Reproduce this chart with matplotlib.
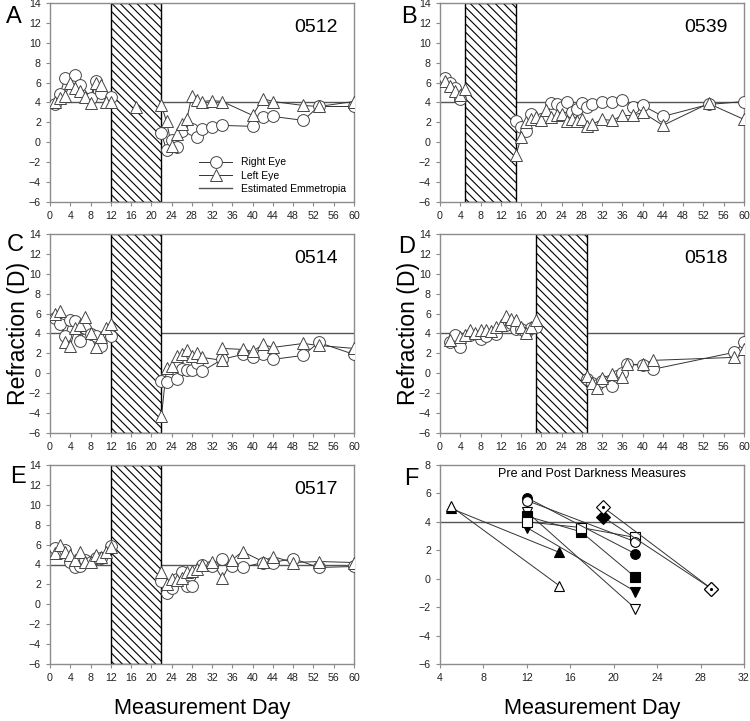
import matplotlib
matplotlib.use("Agg")
import matplotlib.pyplot as plt

plt.rcParams['font.family'] = ['Liberation Sans', 'DejaVu Sans']
plt.rcParams['hatch.linewidth'] = 0.8

# ---- data ----
# panel A, animal 0512, dark 12-22
A_right_day = [1, 2, 3, 5, 6, 8, 9, 10, 12, 22, 23, 24, 25, 26, 28, 29, 30, 32, 34, 40, 42, 44, 50, 53, 60]
A_right = [3.8, 4.9, 6.5, 6.8, 5.8, 4.5, 6.2, 5.0, 4.6, 0.9, -0.8, 0.2, -0.5, 1.1, 1.3, 0.5, 1.3, 1.5, 1.7, 1.6, 2.5, 2.6, 2.2, 3.6, 3.6]
A_left_day = [1, 2, 3, 4, 5, 6, 7, 8, 9, 10, 11, 12, 17, 22, 23, 24, 25, 26, 27, 28, 29, 30, 32, 34, 40, 42, 44, 50, 53, 60]
A_left = [4.0, 4.5, 4.7, 6.0, 5.5, 5.2, 4.6, 3.9, 6.0, 5.8, 4.1, 4.1, 3.5, 3.7, 2.1, -0.4, 0.8, 1.8, 2.3, 4.7, 4.3, 4.1, 4.2, 4.1, 2.7, 4.4, 4.1, 3.7, 3.6, 4.1]

# panel B, 0539, dark 5-15
B_right_day = [1, 2, 3, 4, 15, 16, 17, 18, 20, 21, 22, 23, 24, 25, 26, 27, 28, 29, 30, 32, 34, 36, 38, 40, 44, 53, 60]
B_right = [6.5, 6.0, 5.5, 4.4, 2.1, 1.5, 1.1, 2.8, 2.3, 2.5, 3.9, 3.8, 3.5, 4.0, 3.0, 3.3, 3.9, 3.5, 3.8, 4.0, 4.1, 4.3, 3.5, 3.7, 2.6, 3.8, 4.1]
B_left_day = [1, 2, 3, 4, 5, 15, 16, 17, 18, 19, 20, 21, 22, 23, 24, 25, 26, 27, 28, 29, 30, 32, 34, 36, 38, 40, 44, 53, 60]
B_left = [6.2, 5.7, 5.2, 4.8, 5.4, -1.3, 0.5, 2.0, 2.3, 2.5, 2.2, 3.2, 2.5, 2.7, 2.8, 2.1, 2.3, 2.1, 2.3, 1.6, 1.8, 2.3, 2.2, 2.7, 2.7, 3.0, 1.7, 3.9, 2.3]

# panel C, 0514, dark 12-22
C_right_day = [1, 2, 3, 4, 5, 6, 7, 8, 9, 10, 12, 22, 23, 25, 26, 27, 28, 29, 30, 34, 38, 40, 42, 44, 50, 53, 60]
C_right = [5.6, 5.0, 3.7, 5.4, 5.3, 3.2, 4.6, 3.9, 3.7, 2.7, 3.7, -0.8, -0.9, -0.6, 0.4, 0.3, 0.3, 1.0, 0.2, 1.4, 1.9, 1.6, 1.9, 1.4, 1.8, 3.1, 1.9]
C_left_day = [1, 2, 3, 4, 5, 6, 7, 8, 9, 10, 11, 12, 22, 23, 24, 25, 26, 27, 28, 29, 30, 34, 34, 38, 40, 42, 44, 50, 53, 60]
C_left = [6.0, 6.3, 3.1, 2.7, 4.6, 4.9, 5.7, 4.1, 2.6, 3.6, 4.6, 5.0, -4.3, 0.5, 0.7, 1.7, 1.9, 2.3, 1.7, 2.0, 1.6, 1.3, 2.5, 2.4, 2.2, 2.9, 2.6, 3.0, 2.8, 2.5]

# panel D, 0518, dark 19-29
D_right_day = [2, 3, 4, 6, 8, 9, 11, 13, 14, 15, 16, 17, 18, 19, 29, 30, 31, 32, 34, 35, 36, 37, 40, 42, 58, 60]
D_right = [3.1, 3.8, 2.6, 3.8, 3.4, 3.7, 3.9, 4.9, 5.1, 4.5, 4.5, 4.1, 4.6, 4.7, -0.6, -1.0, -1.2, -0.8, -1.3, -0.3, 0.0, 0.9, 0.8, 0.4, 2.1, 3.1]
D_left_day = [2, 4, 5, 6, 7, 8, 9, 10, 11, 12, 13, 14, 15, 16, 17, 18, 19, 29, 30, 31, 32, 34, 36, 37, 40, 42, 58, 60]
D_left = [3.3, 3.6, 3.8, 4.4, 4.1, 4.4, 4.4, 4.3, 4.7, 4.9, 5.8, 5.5, 5.4, 4.7, 4.0, 4.7, 5.4, -0.3, -1.0, -1.5, -0.5, -0.1, -0.4, 0.9, 0.9, 1.3, 1.6, 2.4]

# panel E, 0517, dark 12-22
E_right_day = [1, 2, 3, 4, 5, 6, 7, 8, 9, 10, 12, 22, 23, 24, 25, 26, 27, 28, 30, 32, 34, 36, 38, 42, 44, 48, 53, 60]
E_right = [5.7, 5.2, 5.5, 4.3, 3.7, 3.8, 4.5, 4.3, 4.7, 4.7, 5.9, 2.3, 1.1, 1.6, 2.5, 3.2, 1.8, 1.8, 4.0, 3.8, 4.6, 3.8, 3.7, 4.2, 4.2, 4.6, 3.7, 3.8]
E_left_day = [1, 2, 3, 4, 5, 6, 7, 8, 9, 10, 11, 12, 22, 23, 24, 25, 26, 27, 28, 29, 30, 32, 34, 36, 38, 42, 44, 48, 53, 60]
E_left = [5.2, 6.0, 5.3, 5.0, 4.5, 5.3, 4.3, 4.3, 5.0, 4.8, 5.3, 5.8, 3.2, 2.0, 2.5, 2.4, 2.6, 3.2, 3.3, 3.5, 4.0, 4.3, 2.6, 4.5, 5.3, 4.3, 4.8, 4.2, 4.3, 4.2]

# panel F, pre / post darkness
F_open_tri_day, F_open_tri = [5, 15], [5.1, -0.5]
F_fill_tri_day, F_fill_tri = [5, 15], [4.95, 1.85]
F_open_circ_day, F_open_circ = [12, 22], [5.5, 2.6]
F_fill_circ_day, F_fill_circ = [12, 22], [5.7, 1.75]
F_open_sq_day, F_open_sq = [12, 17, 22], [4.0, 3.6, 2.9]
F_fill_sq_day, F_fill_sq = [12, 17, 22], [4.4, 3.3, 0.1]
F_open_dtri_day, F_open_dtri = [12, 22], [4.7, -2.1]
F_fill_dtri_day, F_fill_dtri = [12, 22], [3.6, -0.9]
F_fill_dia_day, F_fill_dia = [19, 29], [4.35, -0.7]
F_dot_dia_day, F_dot_dia = [19, 29], [5.05, -0.7]

emmetropia = 4.0
GREY = '#8c8c8c'

fig = plt.figure(figsize=(7.5, 7.21), dpi=100)

W = 304 / 750
H = 199 / 721
pos = {
    'A': (50 / 750, 1 - 202 / 721),
    'B': (440 / 750, 1 - 202 / 721),
    'C': (50 / 750, 1 - 433 / 721),
    'D': (440 / 750, 1 - 433 / 721),
    'E': (50 / 750, 1 - 664 / 721),
    'F': (440 / 750, 1 - 664 / 721),
}


def style_ax(ax):
    for s in ax.spines.values():
        s.set_color(GREY)
        s.set_linewidth(1.0)
    ax.tick_params(colors=GREY, labelcolor='#222222', labelsize=7.7, length=3, width=0.8)


def eye_panel(ax, rd, r, ld, l, dark, name):
    ax.axhline(emmetropia, color='#555555', lw=1.0, zorder=1)
    # connecting lines sit under the hatched dark period, markers on top
    ax.plot(rd, r, '-', color='#333333', lw=0.7, zorder=1.5)
    ax.plot(ld, l, '-', color='#333333', lw=0.7, zorder=1.5)
    ax.axvspan(dark[0], dark[1], facecolor='white', edgecolor='black',
               hatch='\\\\\\\\', lw=1.0, zorder=2)
    ax.plot(rd, r, 'o', ms=8.5, mfc='white', mec='#444444', mew=0.7, zorder=3)
    ax.plot(ld, l, '^', ms=8.5, mfc='white', mec='#444444', mew=0.7, zorder=4)
    ax.set_xlim(0, 60)
    ax.set_ylim(-6, 14)
    ax.set_xticks(range(0, 61, 4))
    ax.set_yticks(range(-6, 15, 2))
    ax.text(0.875, 0.875, name, transform=ax.transAxes, ha='center', va='center', fontsize=14)
    style_ax(ax)


axA = fig.add_axes([*pos['A'], W, H])
eye_panel(axA, A_right_day, A_right, A_left_day, A_left, (12, 22), '0512')
axA.plot([], [], '-o', color='#333333', lw=0.7, ms=8.5, mfc='white', mec='#444444', mew=0.7, label='Right Eye')
axA.plot([], [], '-^', color='#333333', lw=0.7, ms=8.5, mfc='white', mec='#444444', mew=0.7, label='Left Eye')
axA.plot([], [], color='#555555', lw=1.0, label='Estimated Emmetropia')
axA.legend(loc='lower right', bbox_to_anchor=(1.0, 0.0), frameon=False, fontsize=7.5,
           handlelength=3.2, labelspacing=0.3, borderaxespad=0.4)

axB = fig.add_axes([*pos['B'], W, H])
eye_panel(axB, B_right_day, B_right, B_left_day, B_left, (5, 15), '0539')

axC = fig.add_axes([*pos['C'], W, H])
eye_panel(axC, C_right_day, C_right, C_left_day, C_left, (12, 22), '0514')
axC.set_ylabel('Refraction (D)', fontsize=16.6, labelpad=-1)

axD = fig.add_axes([*pos['D'], W, H])
eye_panel(axD, D_right_day, D_right, D_left_day, D_left, (19, 29), '0518')
axD.set_ylabel('Refraction (D)', fontsize=16.6, labelpad=-1)

axE = fig.add_axes([*pos['E'], W, H])
eye_panel(axE, E_right_day, E_right, E_left_day, E_left, (12, 22), '0517')
axE.set_xlabel('Measurement Day', fontsize=15.6, labelpad=11)

# panel F
axF = fig.add_axes([*pos['F'], W, H])
axF.axhline(emmetropia, color='#555555', lw=1.0, zorder=1)
kw = dict(color='#333333', lw=0.7, ms=7, mec='black', mew=0.8, zorder=3)
axF.plot(F_fill_tri_day, F_fill_tri, '-^', mfc='black', **kw)
axF.plot(F_open_tri_day, F_open_tri, '-^', mfc='white', **kw)
axF.plot(F_open_dtri_day, F_open_dtri, '-v', mfc='white', **kw)
axF.plot(F_fill_dtri_day, F_fill_dtri, '-v', mfc='black', **kw)
axF.plot(F_fill_sq_day, F_fill_sq, '-s', mfc='black', **kw)
axF.plot(F_open_sq_day, F_open_sq, '-s', mfc='white', **kw)
axF.plot(F_fill_circ_day, F_fill_circ, '-o', mfc='black', **kw)
axF.plot(F_open_circ_day, F_open_circ, '-o', mfc='white', **kw)
axF.plot(F_fill_dia_day, F_fill_dia, '-D', mfc='black', **kw)
axF.plot(F_dot_dia_day, F_dot_dia, '-D', mfc='white', **kw)
axF.plot(F_dot_dia_day, F_dot_dia, '.', color='black', ms=2.5, zorder=4)
axF.set_xlim(4, 32)
axF.set_ylim(-6, 8)
axF.set_xticks(range(4, 33, 4))
axF.set_yticks(range(-6, 9, 2))
axF.text(0.5, 0.955, 'Pre and Post Darkness Measures', transform=axF.transAxes,
         ha='center', va='center', fontsize=9)
axF.set_xlabel('Measurement Day', fontsize=15.6, labelpad=11)
style_ax(axF)

# panel letters
for letter, (x, y) in {'A': (14, 17), 'B': (409, 17), 'C': (15, 245), 'D': (407, 247),
                       'E': (18, 477), 'F': (411, 479)}.items():
    fig.text(x / 750, 1 - y / 721, letter, fontsize=17, ha='center', va='center')

fig.savefig('out.png', dpi=100)
